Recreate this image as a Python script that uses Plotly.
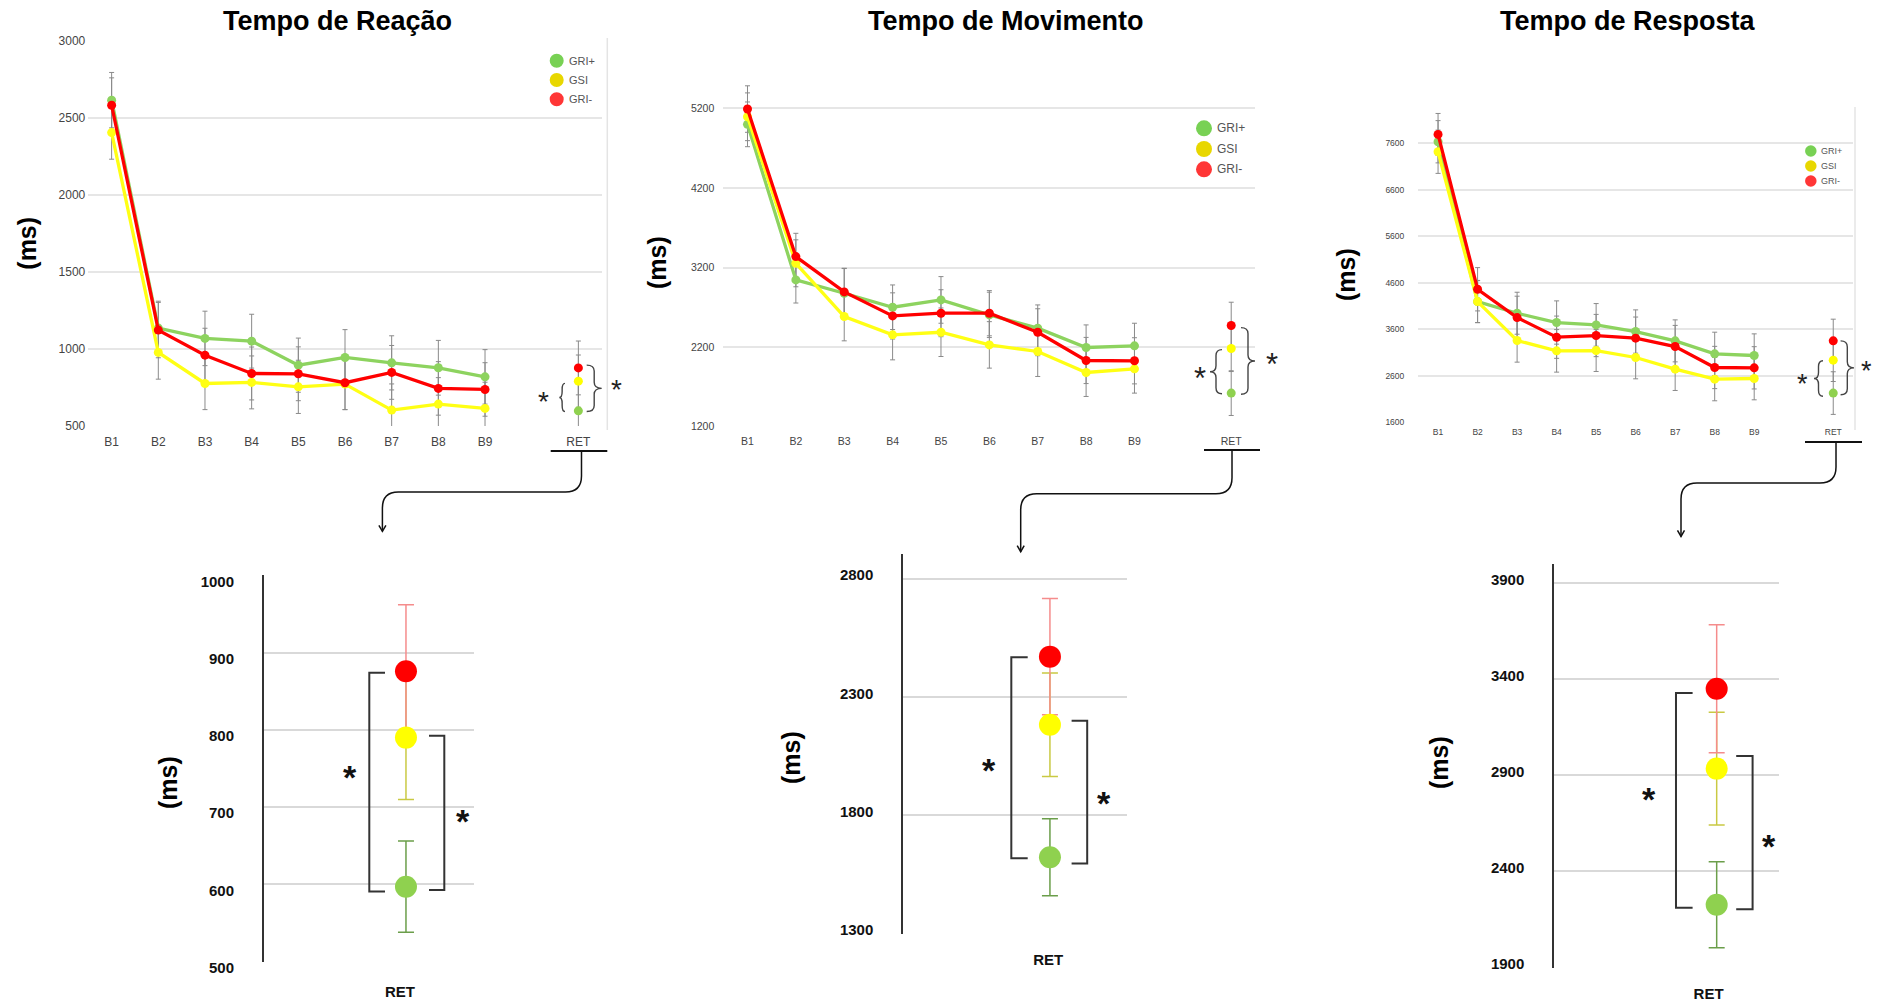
import plotly.graph_objects as go

W, H = 1877, 1004
FONT = "Arial, 'Liberation Sans', sans-serif"

# ---------------- data ----------------
blocks = ["B1", "B2", "B3", "B4", "B5", "B6", "B7", "B8", "B9"]
ret_label = "RET"
groups = ["GRI+", "GSI", "GRI-"]
titles = ["Tempo de Reação", "Tempo de Movimento", "Tempo de Resposta"]

# Tempo de Reação (ms)
tr_gri_pos = [2617, 1135, 1068, 1050, 894, 944, 909, 877, 818]
tr_gsi = [2406, 977, 775, 782, 753, 771, 602, 641, 613]
tr_gri_neg = [2584, 1122, 959, 840, 838, 780, 847, 743, 736]
tr_gri_pos_err = [180, 175, 177, 175, 176, 181, 176, 178, 177]
tr_gsi_err = [173, 174, 170, 172, 173, 166, 170, 172, 170]
tr_gri_neg_err = [178, 180, 175, 172, 175, 175, 175, 174, 174]
tr_ret = [597, 790, 876]            # GRI+, GSI, GRI-
tr_ret_err_block = [175, 170, 175]
tr_ret_err_zoom = [59, 80, 86]

# Tempo de Movimento (ms)
tm_gri_pos = [5000, 3045, 2878, 2702, 2794, 2606, 2439, 2196, 2217]
tm_gsi = [5095, 3254, 2585, 2355, 2388, 2229, 2146, 1882, 1928]
tm_gri_neg = [5192, 3338, 2895, 2593, 2627, 2627, 2388, 2033, 2029]
tm_gri_pos_err = [281, 290, 310, 280, 293, 285, 292, 284, 284]
tm_gsi_err = [300, 295, 305, 314, 305, 292, 314, 301, 305]
tm_gri_neg_err = [292, 293, 297, 290, 295, 284, 295, 290, 290]
tm_ret = [1623, 2184, 2472]
tm_ret_err_block = [281, 290, 293]
tm_ret_err_zoom = [163, 219, 246]

# Tempo de Resposta (ms)
tp_gri_pos = [7636, 4195, 3944, 3744, 3693, 3550, 3349, 3070, 3034]
tp_gsi = [7421, 4195, 3357, 3134, 3141, 2991, 2740, 2525, 2539]
tp_gri_neg = [7794, 4460, 3851, 3428, 3464, 3407, 3227, 2776, 2769]
tp_gri_pos_err = [455, 451, 452, 466, 459, 466, 452, 466, 466]
tp_gsi_err = [466, 455, 466, 458, 451, 459, 459, 466, 459]
tp_gri_neg_err = [451, 466, 460, 455, 455, 455, 455, 455, 455]
tp_ret = [2225, 2934, 3350]
tp_ret_err_block = [459, 460, 466]
tp_ret_err_zoom = [224, 294, 333]

# ---------------- styling ----------------
line_col = {"GRI+": "#8dd35f", "GSI": "#ffff14", "GRI-": "#ff0000"}
ret_col = {"GRI+": "#8fd14f", "GSI": "#ffff00", "GRI-": "#ff0000"}
zoom_err_col = {"GRI+": "#6b9e4a", "GSI": "#c9c943", "GRI-": "#f58c8c"}
legend_col = {"GRI+": "#78d154", "GSI": "#e8d700", "GRI-": "#ff3636"}


def X(px):
    return px / W


def Y(py):
    return 1 - py / H


# panel geometry (pixels)
top = [
    dict(xdom=(88.3, 601.7), ydom=(41, 426), yr=(500, 3000), tick0=500, dtick=500,
         tfs=12, xfs=12, ystand=2, xstand=7),
    dict(xdom=(723.3, 1255.4), ydom=(70, 427), yr=(1200, 5680), tick0=1200, dtick=1000,
         tfs=10.5, xfs=10.5, ystand=8, xstand=6),
    dict(xdom=(1418.3, 1853), ydom=(107, 422.3), yr=(1600, 8380), tick0=1600, dtick=1000,
         tfs=8.5, xfs=8.5, ystand=13, xstand=3),
]
bottom = [
    dict(xdom=(263.8, 473.8), ydom=(575.4, 962), yr=(500, 1000), tick0=500, dtick=100,
         xr=(-0.677, 0.323), shift=6, xstand=19, tdx=-0.029),
    dict(xdom=(903, 1127), ydom=(553.6, 934), yr=(1300, 2908), tick0=1300, dtick=500,
         xr=(-0.656, 0.344), shift=-4, xstand=15, tdx=-0.008),
    dict(xdom=(1554, 1779), ydom=(564, 967.5), yr=(1900, 4000), tick0=1900, dtick=500,
         xr=(-0.723, 0.277), shift=-3, xstand=15, tdx=-0.036),
]


def padded(r, eps):
    return [r[0] - eps, r[1] + eps]


series_top = [
    (tr_gri_pos, tr_gsi, tr_gri_neg),
    (tm_gri_pos, tm_gsi, tm_gri_neg),
    (tp_gri_pos, tp_gsi, tp_gri_neg),
]
errs_top = [
    (tr_gri_pos_err, tr_gsi_err, tr_gri_neg_err),
    (tm_gri_pos_err, tm_gsi_err, tm_gri_neg_err),
    (tp_gri_pos_err, tp_gsi_err, tp_gri_neg_err),
]
rets = [tr_ret, tm_ret, tp_ret]
ret_err_block = [tr_ret_err_block, tm_ret_err_block, tp_ret_err_block]
ret_err_zoom = [tr_ret_err_zoom, tm_ret_err_zoom, tp_ret_err_zoom]

fig = go.Figure()
layout = dict(
    width=W, height=H, margin=dict(l=0, r=0, t=0, b=0, pad=0, autoexpand=False),
    paper_bgcolor="white", plot_bgcolor="white", showlegend=False,
    font=dict(family=FONT, color="#222"),
)

xpos_blocks = list(range(len(blocks)))
xpos_ret = len(blocks) + 1

for i in range(3):
    g = top[i]
    ax = i + 1
    xa = "x" if ax == 1 else f"x{ax}"
    ya = "y" if ax == 1 else f"y{ax}"
    eps = (g["yr"][1] - g["yr"][0]) * 0.0006
    layout["xaxis" if ax == 1 else f"xaxis{ax}"] = dict(
        domain=[X(g["xdom"][0]), X(g["xdom"][1])], range=[-0.5, 10.5], anchor=ya,
        tickmode="array", tickvals=xpos_blocks + [xpos_ret], ticktext=blocks + [ret_label],
        showgrid=False, zeroline=False, showline=False, ticks="", automargin=False,
        tickfont=dict(family=FONT, size=g["xfs"], color="#444"), ticklabelstandoff=g["xstand"],
    )
    layout["yaxis" if ax == 1 else f"yaxis{ax}"] = dict(
        domain=[Y(g["ydom"][1]), Y(g["ydom"][0])], range=padded(g["yr"], eps), anchor=xa,
        tick0=g["tick0"], dtick=g["dtick"], tickformat="d", automargin=False,
        showgrid=True, gridcolor="#e6e6e6", gridwidth=1.5, zeroline=False, showline=False,
        ticks="", tickfont=dict(family=FONT, size=g["tfs"], color="#444"),
        ticklabelstandoff=g["ystand"],
    )
    # gray error bars (under the lines)
    for k, name in enumerate(groups):
        fig.add_trace(go.Scatter(
            x=xpos_blocks + [xpos_ret], y=series_top[i][k] + [rets[i][k]],
            mode="markers", marker=dict(size=1, color="rgba(0,0,0,0)"),
            error_y=dict(type="data", array=errs_top[i][k] + [ret_err_block[i][k]],
                         color="#8a8a8a", thickness=1, width=2.5),
            xaxis=xa, yaxis=ya, hoverinfo="skip", name=name,
        ))
    for k, name in enumerate(groups):
        fig.add_trace(go.Scatter(
            x=xpos_blocks, y=series_top[i][k], mode="lines+markers", name=name,
            line=dict(color=line_col[name], width=3.3),
            marker=dict(color=line_col[name], size=9),
            xaxis=xa, yaxis=ya,
        ))
    for k, name in enumerate(groups):
        fig.add_trace(go.Scatter(
            x=[xpos_ret], y=[rets[i][k]], mode="markers", name=name,
            marker=dict(color=ret_col[name], size=9), xaxis=xa, yaxis=ya,
        ))

for i in range(3):
    g = bottom[i]
    ax = i + 4
    xa, ya = f"x{ax}", f"y{ax}"
    eps = (g["yr"][1] - g["yr"][0]) * 0.001
    layout[f"xaxis{ax}"] = dict(
        domain=[X(g["xdom"][0]), X(g["xdom"][1])], range=list(g["xr"]), anchor=ya,
        tickmode="array", tickvals=[g["tdx"]], ticktext=[ret_label], automargin=False,
        showgrid=False, zeroline=False, showline=False, ticks="",
        tickfont=dict(family=FONT, size=15, color="#111", weight="bold"),
        ticklabelstandoff=g["xstand"],
    )
    layout[f"yaxis{ax}"] = dict(
        domain=[Y(g["ydom"][1]), Y(g["ydom"][0])], range=[g["yr"][0] - eps, g["yr"][1]],
        anchor=xa, tick0=g["tick0"], dtick=g["dtick"], tickformat="d", automargin=False,
        showgrid=True, gridcolor="#d9d9d9", gridwidth=1.5, zeroline=False,
        showline=True, linecolor="#333", linewidth=1.5,
        ticks="", tickfont=dict(family=FONT, size=15, color="#111", weight="bold"),
        ticklabelstandoff=25, ticklabelshift=g["shift"],
    )
    for k, name in enumerate(groups):
        fig.add_trace(go.Scatter(
            x=[0], y=[rets[i][k]], mode="markers", marker=dict(size=1, color="rgba(0,0,0,0)"),
            error_y=dict(type="data", array=[ret_err_zoom[i][k]], color=zoom_err_col[name],
                         thickness=1.5, width=8),
            xaxis=xa, yaxis=ya, hoverinfo="skip", name=name,
        ))
    for k, name in enumerate(groups):
        fig.add_trace(go.Scatter(
            x=[0], y=[rets[i][k]], mode="markers", name=name,
            marker=dict(size=22, color=ret_col[name]), xaxis=xa, yaxis=ya,
        ))

fig.update_layout(**layout)


# ---------------- annotations / decorations ----------------
def ypx(g, v):
    (t, b), (r0, r1) = g["ydom"], g["yr"]
    return b - (v - r0) * (b - t) / (r1 - r0)


def path(points):
    s = ""
    for cmd, pts in points:
        s += cmd + " " + " ".join(f"{X(px):.5f},{Y(py):.5f}" for px, py in pts) + " "
    return s.strip()


def brace(x_arm, x_tip, y_top, y_bot):
    xm = (x_arm + x_tip) / 2
    ym = (y_top + y_bot) / 2
    r = min(6, (y_bot - y_top) / 4)
    return path([
        ("M", [(x_arm, y_top)]),
        ("Q", [(xm, y_top), (xm, y_top + r)]),
        ("L", [(xm, ym - r)]),
        ("Q", [(xm, ym), (x_tip, ym)]),
        ("Q", [(xm, ym), (xm, ym + r)]),
        ("L", [(xm, y_bot - r)]),
        ("Q", [(xm, y_bot), (x_arm, y_bot)]),
    ])


def bracket(x_arm, x_bar, y_top, y_bot):
    return path([("M", [(x_arm, y_top)]), ("L", [(x_bar, y_top)]),
                 ("L", [(x_bar, y_bot)]), ("L", [(x_arm, y_bot)])])


shapes = []
annots = []

title_x = [337, 1006, 1627.5]
for i in range(3):
    annots.append(dict(x=X(title_x[i]), y=Y(21), xref="paper", yref="paper", text=titles[i],
                       showarrow=False, xanchor="center", yanchor="middle",
                       font=dict(family=FONT, size=27, color="black", weight="bold")))

ms_pos = [(26.7, 243), (657, 263), (1346, 275), (168, 783), (791, 758), (1439, 763)]
for (mx, my) in ms_pos:
    annots.append(dict(x=X(mx), y=Y(my), xref="paper", yref="paper", text="(ms)",
                       showarrow=False, textangle=-90, xanchor="center", yanchor="middle",
                       font=dict(family=FONT, size=25, color="black", weight="bold")))

# legends
legends = [
    dict(x=556.7, ys=[60.7, 80, 99.3], d=14, tx=567, fs=11),
    dict(x=1204, ys=[128.3, 149, 169.3], d=16, tx=1215, fs=12),
    dict(x=1810.8, ys=[151, 166, 181], d=11.5, tx=1819, fs=9),
]
for lg in legends:
    for k, name in enumerate(groups):
        cx, cy, r = lg["x"], lg["ys"][k], lg["d"] / 2
        shapes.append(dict(type="circle", xref="paper", yref="paper",
                           x0=X(cx - r), x1=X(cx + r), y0=Y(cy + r), y1=Y(cy - r),
                           fillcolor=legend_col[name], line=dict(width=0)))
        annots.append(dict(x=X(lg["tx"]), y=Y(cy), xref="paper", yref="paper", text=name,
                           showarrow=False, xanchor="left", yanchor="middle",
                           font=dict(family=FONT, size=lg["fs"], color="#555")))

# right border lines of block charts
shapes.append(dict(type="line", xref="paper", yref="paper", x0=X(607.3), x1=X(607.3),
                   y0=Y(38), y1=Y(430), line=dict(color="#e4e4e4", width=1.5)))
shapes.append(dict(type="line", xref="paper", yref="paper", x0=X(1855), x1=X(1855),
                   y0=Y(107), y1=Y(430), line=dict(color="#e4e4e4", width=1.5)))

# braces + stars in top RET
brace_specs = [
    dict(l=(565, 559.3), r=(586.7, 601.7), sl=(543.3, 399.3), sr=(616.7, 387.7), fs=28,
         lo=(2, 0.5), ro=(-3, 0.5), dy=-4),
    dict(l=(1222, 1210), r=(1241, 1255), sl=(1200, 373), sr=(1272, 359), fs=31,
         lo=(1, 0.5), ro=(2, 1), dy=-1),
    dict(l=(1823, 1814), r=(1840.6, 1854), sl=(1802.4, 380), sr=(1866.7, 366.7), fs=27,
         lo=(0.5, 3), ro=(0, 1.5), dy=-2),
]
for i in range(3):
    g, b = top[i], brace_specs[i]
    g_y, s_y, r_y = (ypx(g, v) for v in rets[i])
    shapes.append(dict(type="path", xref="paper", yref="paper",
                       path=brace(b["l"][0], b["l"][1], s_y + b["lo"][0], g_y + b["lo"][1]),
                       line=dict(color="#444", width=1.4)))
    shapes.append(dict(type="path", xref="paper", yref="paper",
                       path=brace(b["r"][0], b["r"][1], r_y + b["ro"][0], g_y + b["ro"][1]),
                       line=dict(color="#444", width=1.4)))
    for (sx, sy) in (b["sl"], b["sr"]):
        annots.append(dict(x=X(sx), y=Y(sy + 0.22 * b["fs"] + b["dy"]), xref="paper",
                           yref="paper", text="*", showarrow=False, xanchor="center",
                           yanchor="middle",
                           font=dict(family=FONT, size=b["fs"], color="#222")))

# brackets + stars in zoomed RET panels
bracket_specs = [
    dict(l=(385, 369.3), r=(429, 444.3), lo=(1.5, 4.5), ro=(-2, 3),
         sl=(350, 773), sr=(463, 817.4)),
    dict(l=(1027.7, 1011.3), r=(1071.6, 1087.2), lo=(0.5, 0.7), ro=(-4, 6),
         sl=(989, 766.3), sr=(1104, 798.7)),
    dict(l=(1692.6, 1676), r=(1736.2, 1752.6), lo=(4, 2.6), ro=(-12.7, 4.3),
         sl=(1649, 795.3), sr=(1769, 842)),
]
for i in range(3):
    g, b = bottom[i], bracket_specs[i]
    g_y, s_y, r_y = (ypx(g, v) for v in rets[i])
    shapes.append(dict(type="path", xref="paper", yref="paper",
                       path=bracket(b["l"][0], b["l"][1], r_y + b["lo"][0], g_y + b["lo"][1]),
                       line=dict(color="#333", width=2)))
    shapes.append(dict(type="path", xref="paper", yref="paper",
                       path=bracket(b["r"][0], b["r"][1], s_y + b["ro"][0], g_y + b["ro"][1]),
                       line=dict(color="#333", width=2)))
    for (sx, sy) in (b["sl"], b["sr"]):
        annots.append(dict(x=X(sx), y=Y(sy + 0.22 * 34 - 3.5), xref="paper", yref="paper",
                           text="*", showarrow=False, xanchor="center", yanchor="middle",
                           font=dict(family=FONT, size=34, color="#111", weight="bold")))

# RET underline + connector arrows
connectors = [
    dict(ul=(550.7, 607.3, 451), vx=581.5, hy=492, ax=382.4, tip=531.3),
    dict(ul=(1204, 1260, 450), vx=1232, hy=493.8, ax=1020.7, tip=551.7),
    dict(ul=(1805, 1862, 442), vx=1836, hy=483, ax=1681, tip=536.4),
]
for c in connectors:
    x0, x1, uy = c["ul"]
    shapes.append(dict(type="line", xref="paper", yref="paper", x0=X(x0), x1=X(x1),
                       y0=Y(uy), y1=Y(uy), line=dict(color="#111", width=2)))
    vx, hy, axx, tip = c["vx"], c["hy"], c["ax"], c["tip"]
    rr = 16
    shapes.append(dict(type="path", xref="paper", yref="paper", path=path([
        ("M", [(vx, uy)]), ("L", [(vx, hy - rr)]), ("Q", [(vx, hy), (vx - rr, hy)]),
        ("L", [(axx + rr, hy)]), ("Q", [(axx, hy), (axx, hy + rr)]), ("L", [(axx, tip)]),
    ]), line=dict(color="#111", width=1.5)))
    shapes.append(dict(type="path", xref="paper", yref="paper", path=path([
        ("M", [(axx - 3.5, tip - 6)]), ("L", [(axx, tip)]), ("L", [(axx + 3.5, tip - 6)]),
    ]), line=dict(color="#111", width=1.5)))

fig.update_layout(shapes=shapes, annotations=annots)
fig.write_html("out.html", config={"displayModeBar": False})
